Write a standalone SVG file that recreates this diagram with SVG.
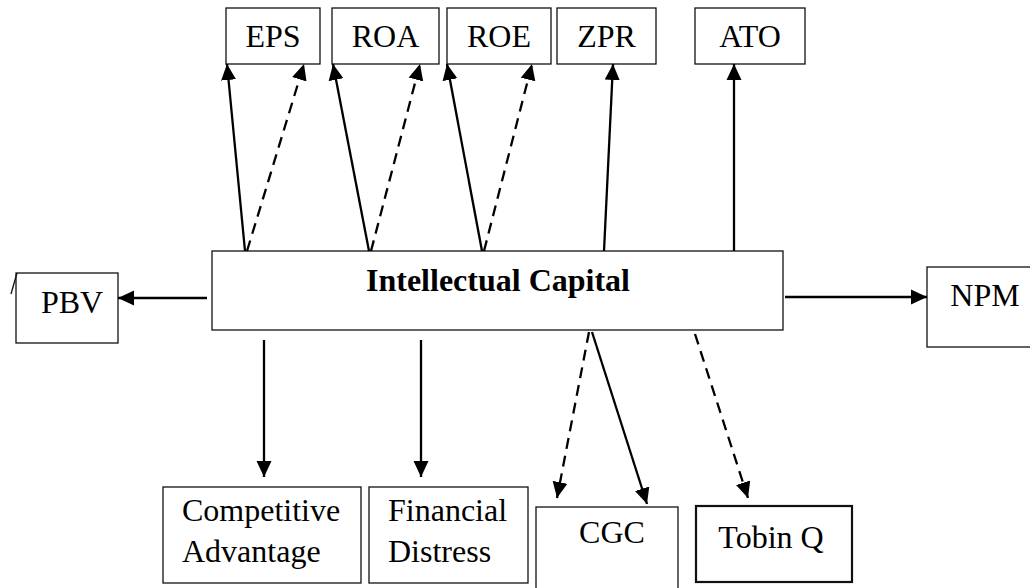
<svg xmlns="http://www.w3.org/2000/svg" width="1030" height="588" viewBox="0 0 1030 588">
  <style>
    .box { fill: #fff; stroke: #111; stroke-width: 1.3; }
    .box-thick { fill: #fff; stroke: #111; stroke-width: 2.2; }
    .lbl { font-family: "Liberation Serif", "Times New Roman", serif; font-size: 32px; fill: #000; text-anchor: middle; }
    .lbl-left { font-family: "Liberation Serif", "Times New Roman", serif; font-size: 32px; fill: #000; }
    .title { font-family: "Liberation Serif", "Times New Roman", serif; font-size: 32px; font-weight: bold; fill: #000; text-anchor: middle; }
    .link { fill: none; stroke: #000; stroke-width: 2.3; marker-end: url(#arrow); }
    .dash { stroke-dasharray: 11 7; }
  </style>
  <defs>
    <marker id="arrow" markerUnits="userSpaceOnUse" markerWidth="18" markerHeight="18" viewBox="0 0 18 18" refX="16" refY="9" orient="auto">
      <path d="M0,1.5 L16,9 L0,16.5 Z" fill="#000"/>
    </marker>
  </defs>

  <rect width="1030" height="588" fill="#fff"/>

  <!-- top row -->
  <g id="node-eps">
    <rect class="box" x="226" y="8" width="94" height="56"/>
    <text class="lbl" x="273" y="47">EPS</text>
  </g>
  <g id="node-roa">
    <rect class="box" x="332" y="8" width="107" height="56"/>
    <text class="lbl" x="385.5" y="47">ROA</text>
  </g>
  <g id="node-roe">
    <rect class="box" x="447" y="8" width="104" height="56"/>
    <text class="lbl" x="499" y="47">ROE</text>
  </g>
  <g id="node-zpr">
    <rect class="box" x="557" y="8" width="99" height="56"/>
    <text class="lbl" x="606.5" y="47">ZPR</text>
  </g>
  <g id="node-ato">
    <rect class="box" x="695" y="8" width="110" height="56"/>
    <text class="lbl" x="750" y="47">ATO</text>
  </g>

  <!-- centre -->
  <g id="node-ic">
    <rect class="box" x="212" y="251" width="571" height="79"/>
    <text class="title" x="498" y="291">Intellectual Capital</text>
  </g>

  <!-- sides -->
  <g id="node-pbv">
    <rect class="box" x="16" y="273" width="102" height="70"/>
    <line x1="11" y1="294" x2="17" y2="273" stroke="#111" stroke-width="1.3"/>
    <text class="lbl" x="72" y="313">PBV</text>
  </g>
  <g id="node-npm">
    <rect class="box" x="927" y="267" width="110" height="80"/>
    <text class="lbl" x="985" y="306">NPM</text>
  </g>

  <!-- bottom row -->
  <g id="node-ca">
    <rect class="box" x="163" y="487" width="198" height="96"/>
    <text class="lbl-left" x="182" y="521">Competitive</text>
    <text class="lbl-left" x="182" y="562">Advantage</text>
  </g>
  <g id="node-fd">
    <rect class="box" x="369" y="487" width="159" height="96"/>
    <text class="lbl-left" x="388" y="521">Financial</text>
    <text class="lbl-left" x="388" y="562">Distress</text>
  </g>
  <g id="node-cgc">
    <rect class="box" x="536" y="507" width="142" height="95"/>
    <text class="lbl" x="612" y="543">CGC</text>
  </g>
  <g id="node-tobin">
    <rect class="box-thick" x="696" y="506" width="156" height="76"/>
    <text class="lbl" x="771" y="548">Tobin Q</text>
  </g>

  <!-- connectors -->
  <g id="connectors">
    <line class="link" x1="245" y1="251" x2="227" y2="64"/>
    <line class="link dash" x1="247" y1="251" x2="304" y2="64"/>
    <line class="link" x1="369" y1="251" x2="333" y2="64"/>
    <line class="link dash" x1="371" y1="251" x2="420" y2="64"/>
    <line class="link" x1="482" y1="251" x2="447" y2="64"/>
    <line class="link dash" x1="484" y1="251" x2="532" y2="64"/>
    <line class="link" x1="604" y1="251" x2="613" y2="64"/>
    <line class="link" x1="734" y1="251" x2="734" y2="64"/>

    <line class="link" x1="207" y1="298" x2="118" y2="298"/>
    <line class="link" x1="785" y1="297" x2="927" y2="297"/>

    <line class="link" x1="264" y1="340" x2="264" y2="477"/>
    <line class="link" x1="421" y1="340" x2="421" y2="477"/>
    <line class="link dash" x1="589" y1="332" x2="557" y2="498"/>
    <line class="link" x1="592" y1="332" x2="647" y2="504"/>
    <line class="link dash" x1="695" y1="334" x2="748" y2="498"/>
  </g>
</svg>
